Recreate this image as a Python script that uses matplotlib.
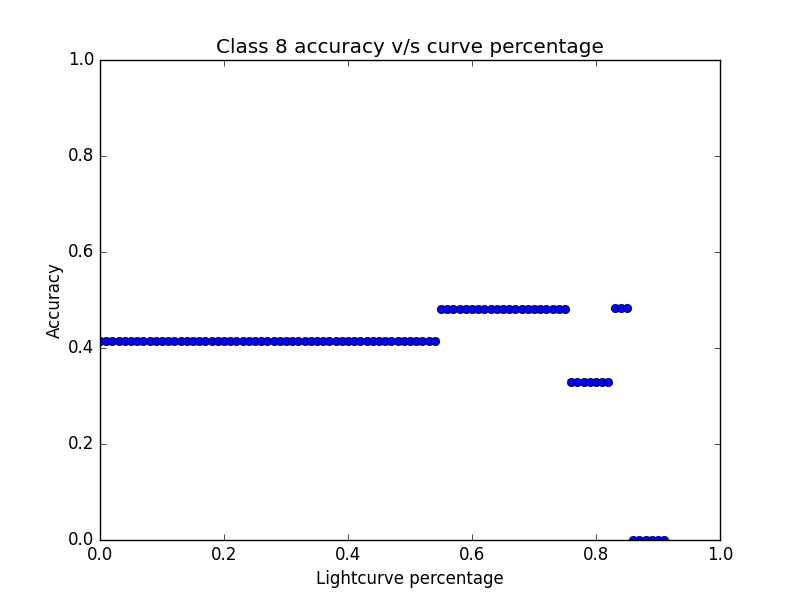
import matplotlib
matplotlib.use('Agg')
import matplotlib.pyplot as plt

# lightcurve percentage values (x) and accuracy (y)
pct = [0.00, 0.01, 0.02, 0.03, 0.04, 0.05, 0.06, 0.07, 0.08, 0.09,
       0.10, 0.11, 0.12, 0.13, 0.14, 0.15, 0.16, 0.17, 0.18, 0.19,
       0.20, 0.21, 0.22, 0.23, 0.24, 0.25, 0.26, 0.27, 0.28, 0.29,
       0.30, 0.31, 0.32, 0.33, 0.34, 0.35, 0.36, 0.37, 0.38, 0.39,
       0.40, 0.41, 0.42, 0.43, 0.44, 0.45, 0.46, 0.47, 0.48, 0.49,
       0.50, 0.51, 0.52, 0.53, 0.54,
       0.55, 0.56, 0.57, 0.58, 0.59, 0.60, 0.61, 0.62, 0.63, 0.64,
       0.65, 0.66, 0.67, 0.68, 0.69, 0.70, 0.71, 0.72, 0.73, 0.74, 0.75,
       0.76, 0.77, 0.78, 0.79, 0.80, 0.81, 0.82,
       0.83, 0.84, 0.85,
       0.86, 0.87, 0.88, 0.89, 0.90, 0.91]
acc = [0.414] * 55 + [0.481] * 21 + [0.329] * 7 + [0.483] * 3 + [0.0] * 6

plt.style.use('classic')
fig = plt.figure(figsize=(8, 6))
ax = fig.add_subplot(111)
ax.plot(pct, acc, 'bo')
ax.set_xlim(0, 1)
ax.set_ylim(0, 1)
ax.set_title('Class 8 accuracy v/s curve percentage')
ax.set_xlabel('Lightcurve percentage')
ax.set_ylabel('Accuracy', labelpad=3)
fig.savefig('out.png', dpi=100)
